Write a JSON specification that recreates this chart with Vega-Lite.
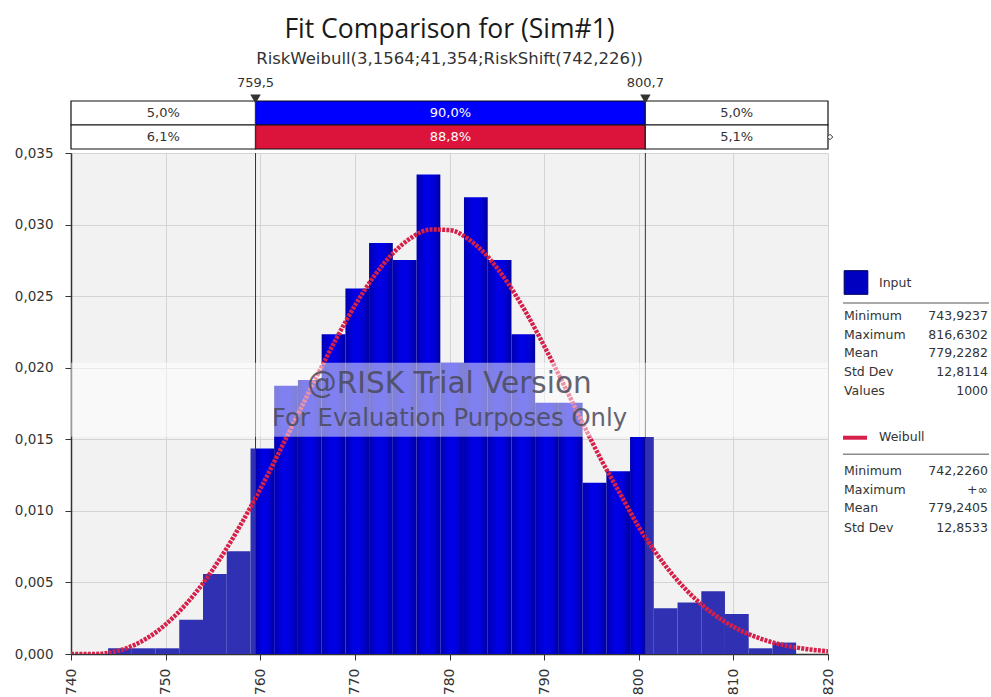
{
  "$schema": "https://vega.github.io/schema/vega-lite/v6.json",
  "padding": {"left": 14, "top": 17, "right": 0, "bottom": 0},
  "background": "white",
  "config": {"view": {"stroke": null}, "font": "DejaVu Sans"},
  "datasets": {
    "bins": [
      {"lo": 743.92, "hi": 746.43, "density": 0.000399, "region": "tail"},
      {"lo": 746.43, "hi": 748.94, "density": 0.000399, "region": "tail"},
      {"lo": 748.94, "hi": 751.44, "density": 0.000399, "region": "tail"},
      {"lo": 751.44, "hi": 753.95, "density": 0.002393, "region": "tail"},
      {"lo": 753.95, "hi": 756.46, "density": 0.005584, "region": "tail"},
      {"lo": 756.46, "hi": 758.97, "density": 0.007179, "region": "tail"},
      {"lo": 758.97, "hi": 759.5, "density": 0.014359, "region": "tail"},
      {"lo": 759.5, "hi": 761.47, "density": 0.014359, "region": "inside"},
      {"lo": 761.47, "hi": 763.98, "density": 0.018746, "region": "inside"},
      {"lo": 763.98, "hi": 766.49, "density": 0.019145, "region": "inside"},
      {"lo": 766.49, "hi": 769.0, "density": 0.022336, "region": "inside"},
      {"lo": 769.0, "hi": 771.5, "density": 0.025527, "region": "inside"},
      {"lo": 771.5, "hi": 774.01, "density": 0.028718, "region": "inside"},
      {"lo": 774.01, "hi": 776.52, "density": 0.027521, "region": "inside"},
      {"lo": 776.52, "hi": 779.03, "density": 0.033504, "region": "inside"},
      {"lo": 779.03, "hi": 781.53, "density": 0.020342, "region": "inside"},
      {"lo": 781.53, "hi": 784.04, "density": 0.031909, "region": "inside"},
      {"lo": 784.04, "hi": 786.55, "density": 0.027521, "region": "inside"},
      {"lo": 786.55, "hi": 789.05, "density": 0.022336, "region": "inside"},
      {"lo": 789.05, "hi": 791.56, "density": 0.01755, "region": "inside"},
      {"lo": 791.56, "hi": 794.07, "density": 0.01755, "region": "inside"},
      {"lo": 794.07, "hi": 796.58, "density": 0.011966, "region": "inside"},
      {"lo": 796.58, "hi": 799.08, "density": 0.012764, "region": "inside"},
      {"lo": 799.08, "hi": 800.7, "density": 0.015157, "region": "inside"},
      {"lo": 800.7, "hi": 801.59, "density": 0.015157, "region": "tail"},
      {"lo": 801.59, "hi": 804.1, "density": 0.003191, "region": "tail"},
      {"lo": 804.1, "hi": 806.61, "density": 0.00359, "region": "tail"},
      {"lo": 806.61, "hi": 809.11, "density": 0.004387, "region": "tail"},
      {"lo": 809.11, "hi": 811.62, "density": 0.002792, "region": "tail"},
      {"lo": 811.62, "hi": 814.13, "density": 0.000399, "region": "tail"},
      {"lo": 814.13, "hi": 816.63, "density": 0.000798, "region": "tail"}
    ],
    "weibull": [
      {"x": 740, "f": 0}, {"x": 742.226, "f": 0}, {"x": 743, "f": 0.0000143},
      {"x": 744, "f": 0.0000859}, {"x": 746, "f": 0.000437}, {"x": 748, "f": 0.001091},
      {"x": 750, "f": 0.002066}, {"x": 752, "f": 0.003367}, {"x": 754, "f": 0.004988},
      {"x": 756, "f": 0.006912}, {"x": 758, "f": 0.009106}, {"x": 760, "f": 0.011525},
      {"x": 762, "f": 0.014106}, {"x": 764, "f": 0.016773}, {"x": 766, "f": 0.019435},
      {"x": 768, "f": 0.021991}, {"x": 770, "f": 0.024337}, {"x": 772, "f": 0.026365},
      {"x": 774, "f": 0.02798}, {"x": 776, "f": 0.029097}, {"x": 778, "f": 0.029654},
      {"x": 780, "f": 0.029617}, {"x": 782, "f": 0.028983}, {"x": 784, "f": 0.027782},
      {"x": 786, "f": 0.026076}, {"x": 788, "f": 0.023956}, {"x": 790, "f": 0.021525},
      {"x": 792, "f": 0.018912}, {"x": 794, "f": 0.016233}, {"x": 796, "f": 0.013605},
      {"x": 798, "f": 0.011237}, {"x": 800, "f": 0.008872}, {"x": 802, "f": 0.006893},
      {"x": 804, "f": 0.005214}, {"x": 806, "f": 0.003836}, {"x": 808, "f": 0.002744},
      {"x": 810, "f": 0.001906}, {"x": 812, "f": 0.001285}, {"x": 814, "f": 0.000839},
      {"x": 816, "f": 0.000531}, {"x": 818, "f": 0.000322}, {"x": 820, "f": 0.000193}
    ],
    "markers": [{"m": 759.5, "label": "759,5"}, {"m": 800.7, "label": "800,7"}],
    "cells": [
      {"row": "A", "start": 740, "end": 759.5, "label": "5,0%", "part": "side"},
      {"row": "A", "start": 759.5, "end": 800.7, "label": "90,0%", "part": "input"},
      {"row": "A", "start": 800.7, "end": 820, "label": "5,0%", "part": "side"},
      {"row": "B", "start": 740, "end": 759.5, "label": "6,1%", "part": "side"},
      {"row": "B", "start": 759.5, "end": 800.7, "label": "88,8%", "part": "fit"},
      {"row": "B", "start": 800.7, "end": 820, "label": "5,1%", "part": "side"}
    ],
    "stats": [
      {"line": 8.62, "label": "Minimum", "value": "743,9237"},
      {"line": 9.62, "label": "Maximum", "value": "816,6302"},
      {"line": 10.6, "label": "Mean", "value": "779,2282"},
      {"line": 11.6, "label": "Std Dev", "value": "12,8114"},
      {"line": 12.6, "label": "Values", "value": "1000"},
      {"line": 16.8, "label": "Minimum", "value": "742,2260"},
      {"line": 17.8, "label": "Maximum", "value": "+∞"},
      {"line": 18.8, "label": "Mean", "value": "779,2405"},
      {"line": 19.83, "label": "Std Dev", "value": "12,8533"}
    ]
  },
  "columns": 2,
  "align": "each",
  "bounds": "flush",
  "spacing": {"row": 4, "column": 15},
  "concat": [
    {
      "width": 757,
      "height": 48,
      "title": {
        "text": "Fit Comparison for (Sim#1)",
        "subtitle": "RiskWeibull(3,1564;41,354;RiskShift(742,226))",
        "anchor": "middle",
        "font": "Open Sans",
        "fontSize": 26.5,
        "fontWeight": "normal",
        "color": "#1a1a1a",
        "subtitleFont": "DejaVu Sans",
        "subtitleFontSize": 16.5,
        "subtitleColor": "#333",
        "subtitlePadding": 7,
        "offset": 10
      },
      "layer": [
        {
          "data": {"name": "cells"},
          "mark": {"type": "rect", "stroke": "#111", "strokeWidth": 1.2},
          "encoding": {
            "x": {"field": "start", "type": "quantitative", "scale": {"domain": [740, 820], "nice": false, "zero": false}, "axis": null},
            "x2": {"field": "end"},
            "y": {"field": "row", "type": "nominal", "scale": {"domain": ["A", "B"], "paddingInner": 0, "paddingOuter": 0}, "axis": null},
            "fill": {"field": "part", "type": "nominal", "scale": {"domain": ["side", "input", "fit"], "range": ["#ffffff", "#0000ff", "#dc143c"]}, "legend": null}
          }
        },
        {
          "data": {"name": "cells"},
          "transform": [{"calculate": "(datum.start + datum.end) / 2", "as": "mid"}],
          "mark": {"type": "text", "fontSize": 13, "baseline": "middle", "align": "center"},
          "encoding": {
            "x": {"field": "mid", "type": "quantitative"},
            "y": {"field": "row", "type": "nominal"},
            "text": {"field": "label"},
            "color": {"condition": {"test": "datum.part == 'side'", "value": "#333333"}, "value": "#ffffff"}
          }
        },
        {
          "data": {"name": "markers"},
          "mark": {"type": "rule", "color": "#333", "strokeWidth": 1},
          "encoding": {"x": {"field": "m", "type": "quantitative"}}
        },
        {
          "data": {"name": "markers"},
          "mark": {"type": "point", "shape": "triangle-down", "size": 110, "filled": true, "color": "#333", "opacity": 1, "yOffset": -2},
          "encoding": {"x": {"field": "m", "type": "quantitative"}, "y": {"value": 0}}
        },
        {
          "data": {"name": "markers"},
          "mark": {"type": "text", "fontSize": 13, "color": "#333", "baseline": "alphabetic", "dy": -14},
          "encoding": {"x": {"field": "m", "type": "quantitative"}, "y": {"value": 0}, "text": {"field": "label"}}
        },
        {
          "data": {"values": [{}]},
          "mark": {"type": "point", "shape": "diamond", "size": 30, "filled": true, "fill": "#fff", "stroke": "#333", "strokeWidth": 1, "opacity": 1, "xOffset": 2},
          "encoding": {"x": {"datum": 820, "type": "quantitative"}, "y": {"datum": "B", "type": "nominal"}}
        }
      ]
    },
    {
      "width": 146,
      "height": 48,
      "data": {"values": []},
      "mark": {"type": "point", "opacity": 0},
      "encoding": {}
    },
    {
      "width": 757,
      "height": 501,
      "view": {"fill": "#f2f2f2"},
      "layer": [
        {
          "data": {"name": "bins"},
          "transform": [{"filter": "datum.region == 'tail'"}],
          "mark": {"type": "rect", "fill": "#3030b2"},
          "encoding": {
            "x": {
              "field": "lo", "type": "quantitative", "title": null,
              "scale": {"domain": [740, 820], "nice": false, "zero": false},
              "axis": {
                "values": [740, 750, 760, 770, 780, 790, 800, 810, 820], "format": "d",
                "labelAngle": -90, "labelFontSize": 14, "labelColor": "#333", "labelPadding": 8,
                "labelFlush": false, "labelOverlap": false, "labelBound": false,
                "tickSize": 6, "tickColor": "#333", "domainColor": "#333", "domainWidth": 1.5,
                "grid": true, "gridColor": "#d4d4d4"
              }
            },
            "x2": {"field": "hi"},
            "y": {
              "field": "density", "type": "quantitative", "title": null,
              "scale": {"domain": [0, 0.035], "nice": false},
              "axis": {
                "values": [0, 0.005, 0.01, 0.015, 0.02, 0.025, 0.03, 0.035],
                "labelExpr": "replace(format(datum.value, '.3f'), '.', ',')",
                "labelFontSize": 13.5, "labelColor": "#333", "labelPadding": 12,
                "tickSize": 6, "tickColor": "#333", "domainColor": "#333", "domainWidth": 1.5,
                "grid": true, "gridColor": "#d4d4d4", "labelOverlap": false
              }
            },
            "y2": {"datum": 0}
          }
        },
        {
          "data": {"name": "bins"},
          "transform": [{"filter": "datum.region == 'inside'"}],
          "mark": {
            "type": "rect",
            "fill": {
              "gradient": "linear", "x1": 0, "y1": 0, "x2": 1, "y2": 0,
              "stops": [
                {"offset": 0, "color": "#0000b0"},
                {"offset": 0.4, "color": "#0000e8"},
                {"offset": 0.7, "color": "#0000dc"},
                {"offset": 1, "color": "#00009e"}
              ]
            }
          },
          "encoding": {
            "x": {"field": "lo", "type": "quantitative", "title": null},
            "x2": {"field": "hi"},
            "y": {"field": "density", "type": "quantitative", "title": null},
            "y2": {"datum": 0}
          }
        },
        {
          "data": {"name": "weibull"},
          "mark": {"type": "line", "color": "#d6204a", "strokeWidth": 4.5, "strokeDash": [3, 1.2], "interpolate": "monotone", "clip": true},
          "encoding": {
            "x": {"field": "x", "type": "quantitative", "title": null},
            "y": {"field": "f", "type": "quantitative", "title": null}
          }
        },
        {
          "data": {"name": "markers"},
          "mark": {"type": "rule", "color": "#333", "strokeWidth": 1},
          "encoding": {"x": {"field": "m", "type": "quantitative", "title": null}}
        },
        {
          "data": {"values": [{}]},
          "mark": {"type": "rect", "fill": "#ffffff", "opacity": 0.5},
          "encoding": {
            "x": {"datum": 740, "type": "quantitative"},
            "x2": {"datum": 820},
            "y": {"datum": 0.01518, "type": "quantitative"},
            "y2": {"datum": 0.02034}
          }
        },
        {
          "data": {"values": [{}]},
          "mark": {"type": "text", "text": "@RISK Trial Version", "fontSize": 29.5, "color": "#4a4a5a", "opacity": 0.85, "baseline": "middle", "align": "center"},
          "encoding": {"x": {"datum": 780, "type": "quantitative"}, "y": {"datum": 0.01888, "type": "quantitative"}}
        },
        {
          "data": {"values": [{}]},
          "mark": {"type": "text", "text": "For Evaluation Purposes Only", "fontSize": 24.3, "color": "#4a4a5a", "opacity": 0.85, "baseline": "middle", "align": "center"},
          "encoding": {"x": {"datum": 780, "type": "quantitative"}, "y": {"datum": 0.01643, "type": "quantitative"}}
        }
      ]
    },
    {
      "width": 146,
      "height": 501,
      "layer": [
        {
          "data": {"values": [{}]},
          "mark": {"type": "square", "size": 560, "color": "#0000c0", "stroke": "#00005a", "strokeWidth": 1, "filled": true, "opacity": 1},
          "encoding": {
            "x": {"datum": 13, "type": "quantitative", "scale": {"domain": [0, 146], "nice": false, "zero": false}, "axis": null},
            "y": {"datum": 6.85, "type": "quantitative", "scale": {"domain": [0, 26.5], "nice": false, "zero": false, "reverse": true}, "axis": null}
          }
        },
        {
          "data": {"values": [{"line": 6.88, "label": "Input"}, {"line": 15.03, "label": "Weibull"}]},
          "mark": {"type": "text", "fontSize": 12.5, "color": "#333", "align": "left", "baseline": "middle"},
          "encoding": {
            "x": {"datum": 36, "type": "quantitative"},
            "y": {"field": "line", "type": "quantitative"},
            "text": {"field": "label"}
          }
        },
        {
          "data": {"values": [{"line": 7.94}, {"line": 15.93}]},
          "mark": {"type": "rule", "color": "#8c8c8c", "strokeWidth": 1.5},
          "encoding": {
            "x": {"datum": 0, "type": "quantitative"},
            "x2": {"datum": 146},
            "y": {"field": "line", "type": "quantitative"}
          }
        },
        {
          "data": {"values": [{}]},
          "mark": {"type": "rule", "color": "#d6204a", "strokeWidth": 4},
          "encoding": {
            "x": {"datum": 0, "type": "quantitative"},
            "x2": {"datum": 24},
            "y": {"datum": 15.06, "type": "quantitative"}
          }
        },
        {
          "data": {"name": "stats"},
          "mark": {"type": "text", "fontSize": 12.5, "color": "#333", "align": "left", "baseline": "middle"},
          "encoding": {
            "x": {"datum": 1, "type": "quantitative"},
            "y": {"field": "line", "type": "quantitative"},
            "text": {"field": "label"}
          }
        },
        {
          "data": {"name": "stats"},
          "mark": {"type": "text", "fontSize": 12.5, "color": "#333", "align": "right", "baseline": "middle"},
          "encoding": {
            "x": {"datum": 145, "type": "quantitative"},
            "y": {"field": "line", "type": "quantitative"},
            "text": {"field": "value"}
          }
        }
      ]
    }
  ]
}
